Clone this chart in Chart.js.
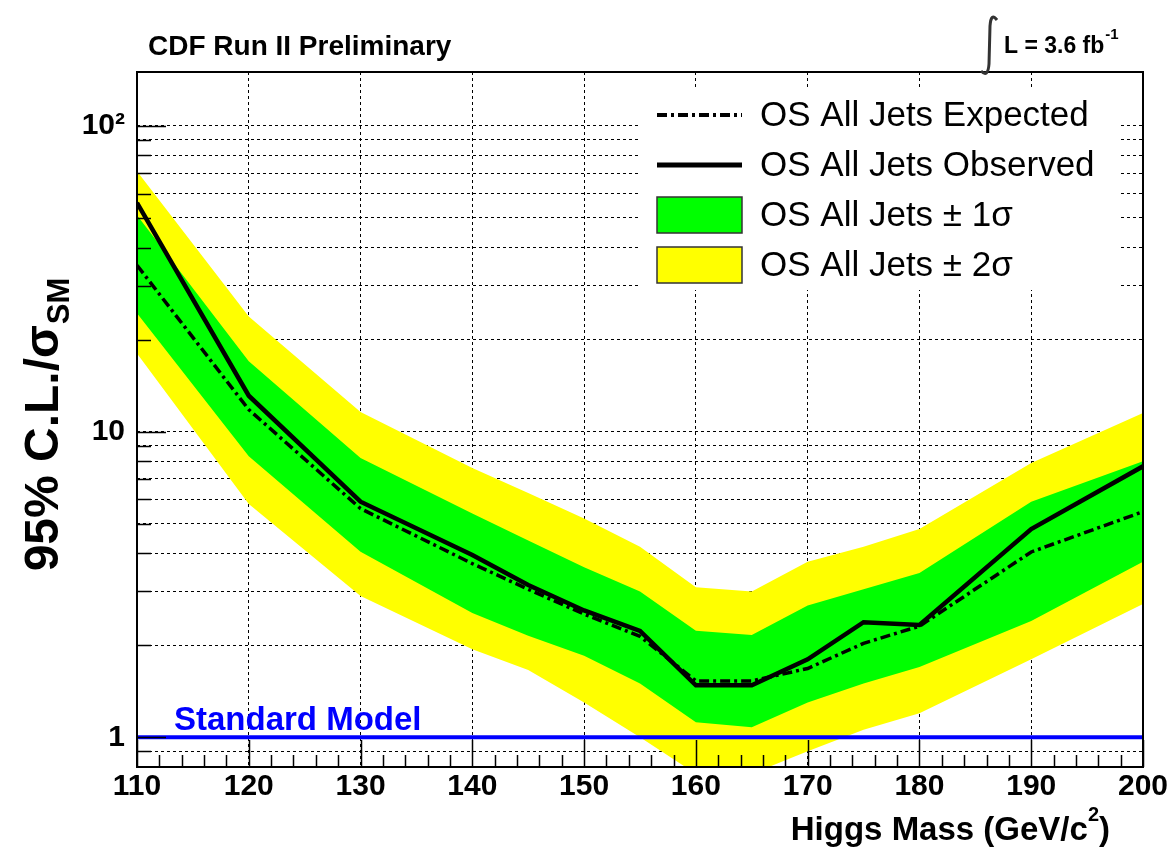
<!DOCTYPE html>
<html lang="en">
<head>
<meta charset="UTF-8">
<title>CDF Run II Preliminary - OS All Jets limits</title>
<script src="https://cdn.jsdelivr.net/npm/chart.js"></script>
<style>
  html, body { margin: 0; padding: 0; background: #fff; }
  #wrap { width: 1174px; height: 852px; }
</style>
</head>
<body>
<div id="wrap"><canvas id="limitChart"></canvas></div>
<script>
// Higgs mass points (GeV/c^2) and 95% C.L. limits / sigma_SM
const masses   = [110, 120, 130, 140, 145, 150, 155, 160, 165, 170, 175, 180, 190, 200];
const observed = [56, 13.1, 5.9, 3.95, 3.15, 2.6, 2.23, 1.48, 1.48, 1.8, 2.38, 2.33, 4.8, 7.7];
const expected = [35, 11.8, 5.6, 3.7, 3.05, 2.53, 2.14, 1.53, 1.53, 1.68, 2.03, 2.31, 4.04, 5.47];
const plus1s   = [51, 17, 8.2, 5.4, 4.4, 3.6, 3.0, 2.23, 2.16, 2.7, 3.05, 3.45, 5.9, 8.0];
const minus1s  = [24.4, 8.3, 4.05, 2.55, 2.15, 1.85, 1.5, 1.12, 1.08, 1.3, 1.5, 1.7, 2.4, 3.75];
const plus2s   = [71, 23.8, 11.6, 7.6, 6.3, 5.2, 4.2, 3.1, 3.0, 3.75, 4.2, 4.8, 7.9, 11.5];
const minus2s  = [18, 5.8, 2.9, 1.94, 1.66, 1.3, 1.0, 0.76, 0.76, 0.9, 1.06, 1.2, 1.8, 2.73];
const smLevel  = 1;

// axis ticks
const xTicks = [110, 120, 130, 140, 150, 160, 170, 180, 190, 200];
const yTicks = [0.9, 1, 2, 3, 4, 5, 6, 7, 8, 9, 10, 20, 30, 40, 50, 60, 70, 80, 90, 100];
const yMajor = [1, 10, 100];
const yTickLabels = { 1: '1', 10: '10', 100: '10\u00B2' };

const legendItems = [
  'OS All Jets Expected',
  'OS All Jets Observed',
  'OS All Jets \u00B1 1\u03C3',
  'OS All Jets \u00B1 2\u03C3'
];

const pts = (ys) => masses.map((m, i) => ({ x: m, y: ys[i] }));
const bold = (px) => 'bold ' + px + 'px "Liberation Sans", Arial, sans-serif';
const plain = (px) => px + 'px "Liberation Sans", Arial, sans-serif';

// frame, inner tick marks, legend and the free text
const decorations = {
  id: 'decorations',
  afterDatasetsDraw(chart) {
    const ctx = chart.ctx;
    const a = chart.chartArea;
    const xs = chart.scales.x, ys = chart.scales.y;
    ctx.save();
    ctx.strokeStyle = '#000';
    ctx.lineWidth = 1.5;
    ctx.beginPath();
    // x ticks every 2 GeV, long at every 10
    for (let m = 110; m <= 200; m += 2) {
      const px = Math.round(xs.getPixelForValue(m)) + 0.5;
      const len = (m % 10 === 0) ? 27 : 12;
      ctx.moveTo(px, a.bottom);
      ctx.lineTo(px, a.bottom - len);
    }
    yTicks.forEach(v => {
      const py = Math.round(ys.getPixelForValue(v)) + 0.5;
      const len = yMajor.includes(v) ? 29 : 14;
      ctx.moveTo(a.left, py);
      ctx.lineTo(a.left + len, py);
    });
    ctx.stroke();
    ctx.lineWidth = 2;
    ctx.strokeRect(a.left, a.top, a.right - a.left, a.bottom - a.top);
    ctx.restore();
  },
  afterDraw(chart) {
    const ctx = chart.ctx;
    ctx.save();

    // legend box
    ctx.fillStyle = '#fff';
    ctx.fillRect(640, 88, 480, 202);
    const rowY = [115, 165, 215, 265];
    ctx.strokeStyle = '#000';
    ctx.lineWidth = 4;
    ctx.setLineDash([10, 4, 3, 4]);
    ctx.beginPath(); ctx.moveTo(657, rowY[0]); ctx.lineTo(742, rowY[0]); ctx.stroke();
    ctx.setLineDash([]);
    ctx.lineWidth = 5;
    ctx.beginPath(); ctx.moveTo(657, rowY[1]); ctx.lineTo(742, rowY[1]); ctx.stroke();
    ctx.lineWidth = 1.5;
    ctx.strokeStyle = '#333';
    ctx.fillStyle = '#00ff00';
    ctx.fillRect(657, rowY[2] - 18, 85, 36); ctx.strokeRect(657, rowY[2] - 18, 85, 36);
    ctx.fillStyle = '#ffff00';
    ctx.fillRect(657, rowY[3] - 18, 85, 36); ctx.strokeRect(657, rowY[3] - 18, 85, 36);
    ctx.fillStyle = '#000';
    ctx.font = plain(35);
    ctx.textBaseline = 'middle';
    ctx.textAlign = 'left';
    legendItems.forEach((t, i) => ctx.fillText(t, 760, rowY[i] + 1));

    // header texts
    ctx.textBaseline = 'alphabetic';
    ctx.font = bold(28);
    ctx.fillText('CDF Run II Preliminary', 148, 55);
    ctx.font = bold(23);
    ctx.fillText('L = 3.6 fb', 1004, 53);
    const w = ctx.measureText('L = 3.6 fb').width;
    ctx.font = bold(15);
    ctx.fillText('-1', 1004 + w + 1, 39);
    // integral sign
    ctx.lineWidth = 3;
    ctx.beginPath();
    ctx.moveTo(997, 20);
    ctx.quadraticCurveTo(991, 12, 990, 26);
    ctx.lineTo(989, 64);
    ctx.quadraticCurveTo(988, 78, 981, 71);
    ctx.stroke();

    // Standard Model label
    ctx.fillStyle = '#0000ff';
    ctx.font = bold(33);
    ctx.fillText('Standard Model', 174, 730);

    // x axis title
    ctx.fillStyle = '#000';
    ctx.font = bold(33);
    const t1 = 'Higgs Mass (GeV/c';
    const w1 = ctx.measureText(t1).width;
    ctx.font = bold(20);
    const w2 = ctx.measureText('2').width;
    ctx.font = bold(33);
    const w3 = ctx.measureText(')').width;
    const x0 = 1110 - w1 - w2 - w3;
    ctx.fillText(t1, x0, 840);
    ctx.fillText(')', x0 + w1 + w2, 840);
    ctx.font = bold(20);
    ctx.fillText('2', x0 + w1, 821);

    // y axis title (rotated)
    ctx.translate(58, 425);
    ctx.rotate(-Math.PI / 2);
    ctx.font = bold(48);
    const m1 = '95% C.L./\u03C3';
    const mw = ctx.measureText(m1).width;
    ctx.font = bold(31);
    const sw = ctx.measureText('SM').width;
    const start = -(mw + sw) / 2;
    ctx.font = bold(48);
    ctx.fillText(m1, start, 0);
    ctx.font = bold(31);
    ctx.fillText('SM', start + mw + 1, 11);
    ctx.restore();
  }
};

const ctx = document.getElementById('limitChart').getContext('2d');
const limitChart = new Chart(ctx, {
  type: 'line',
  data: {
    datasets: [
      { label: '+2 sigma', data: pts(plus2s), fill: 1, backgroundColor: '#ffff00',
        borderWidth: 0, pointRadius: 0, order: 4 },
      { label: '-2 sigma', data: pts(minus2s), fill: false, borderWidth: 0, pointRadius: 0, order: 4 },
      { label: '+1 sigma', data: pts(plus1s), fill: 3, backgroundColor: '#00ff00',
        borderWidth: 0, pointRadius: 0, order: 3 },
      { label: '-1 sigma', data: pts(minus1s), fill: false, borderWidth: 0, pointRadius: 0, order: 3 },
      { label: 'Standard Model', data: [{ x: 110, y: smLevel }, { x: 200, y: smLevel }],
        borderColor: '#0000ff', borderWidth: 4, pointRadius: 0, fill: false, order: 2 },
      { label: 'OS All Jets Expected', data: pts(expected), borderColor: '#000', borderWidth: 3.5,
        borderDash: [10, 4, 3, 4], pointRadius: 0, fill: false, order: 1 },
      { label: 'OS All Jets Observed', data: pts(observed), borderColor: '#000', borderWidth: 4.5,
        pointRadius: 0, fill: false, order: 0 }
    ]
  },
  options: {
    responsive: true,
    maintainAspectRatio: false,
    animation: false,
    events: [],
    layout: { padding: { top: 72, right: 31, left: 0, bottom: 0 } },
    plugins: { legend: { display: false }, tooltip: { enabled: false } },
    elements: { line: { tension: 0 } },
    scales: {
      x: {
        type: 'linear', min: 110, max: 200,
        afterBuildTicks: (s) => { s.ticks = xTicks.map(v => ({ value: v })); },
        afterFit: (s) => { s.height = 85; },
        grid: { color: '#000', lineWidth: 1, drawTicks: false },
        border: { display: false, dash: [3, 3] },
        ticks: { color: '#000', font: { family: '"Liberation Sans", Arial, sans-serif', size: 30, weight: 'bold' },
                 padding: 2, maxRotation: 0, autoSkip: false }
      },
      y: {
        type: 'logarithmic', min: 0.8, max: 150,
        afterBuildTicks: (s) => { s.ticks = yTicks.map(v => ({ value: v })); },
        afterFit: (s) => { s.width = 137; },
        grid: { color: '#000', lineWidth: 1, drawTicks: false },
        border: { display: false, dash: [3, 3] },
        ticks: { color: '#000', font: { family: '"Liberation Sans", Arial, sans-serif', size: 30, weight: 'bold' },
                 padding: 12, autoSkip: false,
                 callback: (v) => yTickLabels[v] || '' }
      }
    }
  },
  plugins: [decorations]
});
</script>
</body>
</html>
